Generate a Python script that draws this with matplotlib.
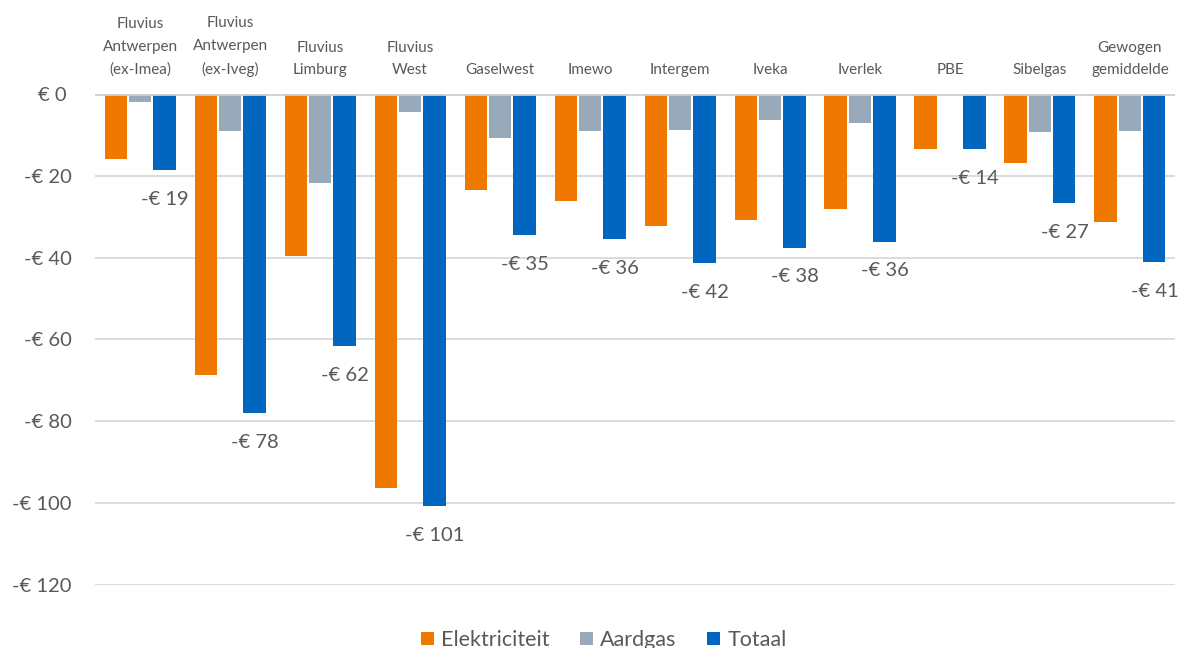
import numpy as np
import matplotlib
matplotlib.use("Agg")
import matplotlib.pyplot as plt

# values (euro, negative = saving)
categories = ["Fluvius\nAntwerpen\n(ex-Imea)", "Fluvius\nAntwerpen\n(ex-Iveg)", "Fluvius\nLimburg",
              "Fluvius\nWest", "Gaselwest", "Imewo", "Intergem", "Iveka", "Iverlek", "PBE",
              "Sibelgas", "Gewogen\ngemiddelde"]
elektriciteit = [-16.0, -68.6, -39.5, -96.2, -23.4, -26.1, -32.3, -30.8, -28.2, -13.5, -16.9, -31.3]
aardgas = [-2.0, -9.2, -21.7, -4.5, -10.7, -9.1, -8.9, -6.4, -7.2, 0.0, -9.4, -9.1]
totaal = [-18.6, -78.0, -61.6, -100.8, -34.5, -35.5, -41.4, -37.6, -36.1, -13.6, -26.7, -41.1]
totaal_labels = ["-€ 19", "-€ 78", "-€ 62", "-€ 101", "-€ 35", "-€ 36", "-€ 42", "-€ 38",
                 "-€ 36", "-€ 14", "-€ 27", "-€ 41"]
yticks = [0, -20, -40, -60, -80, -100, -120]
ytick_labels = ["€ 0 ", "-€ 20", "-€ 40", "-€ 60", "-€ 80", "-€ 100", "-€ 120"]
series_names = ["Elektriciteit", "Aardgas", "Totaal"]

colors = ["#EE7800", "#98A9BA", "#0066BF"]
txt_color = "#595959"
plt.rcParams['font.family'] = ['Lato', 'DejaVu Sans']

fig = plt.figure(figsize=(11.79, 6.48), dpi=100)
ax = fig.add_axes([0.0806, 0.0972, 0.916, 0.758])

x = np.arange(len(categories))
w = 0.245
off = 0.272
bars = []
for i, vals in enumerate([elektriciteit, aardgas, totaal]):
  b = ax.bar(x + (i - 1) * off, vals, width=w, color=colors[i], label=series_names[i], zorder=3)
  bars.append(b)

for xi, v, lab in zip(x, totaal, totaal_labels):
  ax.annotate(lab, (xi + off, v), xytext=(0, -21), textcoords="offset points",
              ha="center", va="center", fontsize=14.5, color=txt_color)

ax.set_xlim(-0.5, len(categories) - 0.5)
ax.set_ylim(-120, 0)
ax.set_yticks(yticks)
ax.set_yticklabels(ytick_labels, fontsize=14.5, color=txt_color)
ax.yaxis.grid(True, color="#D9D9D9", linewidth=1.3, zorder=0)
ax.axhline(0, color="#CFCFCF", linewidth=2, zorder=4)
ax.tick_params(axis="y", length=0, pad=17)

ax.xaxis.tick_top()
ax.set_xticks(x)
ax.set_xticklabels(categories, fontsize=11, color=txt_color, linespacing=1.78)
ax.tick_params(axis="x", length=0, pad=12)

for s in ax.spines.values():
  s.set_visible(False)

fig.legend(handles=bars, labels=series_names, loc="center", bbox_to_anchor=(0.512, 0.012),
           ncol=3, frameon=False, fontsize=15.5, labelcolor=txt_color,
           handlelength=0.6, handleheight=0.6, handletextpad=0.35, columnspacing=1.4)

fig.savefig("out.png", dpi=100)
